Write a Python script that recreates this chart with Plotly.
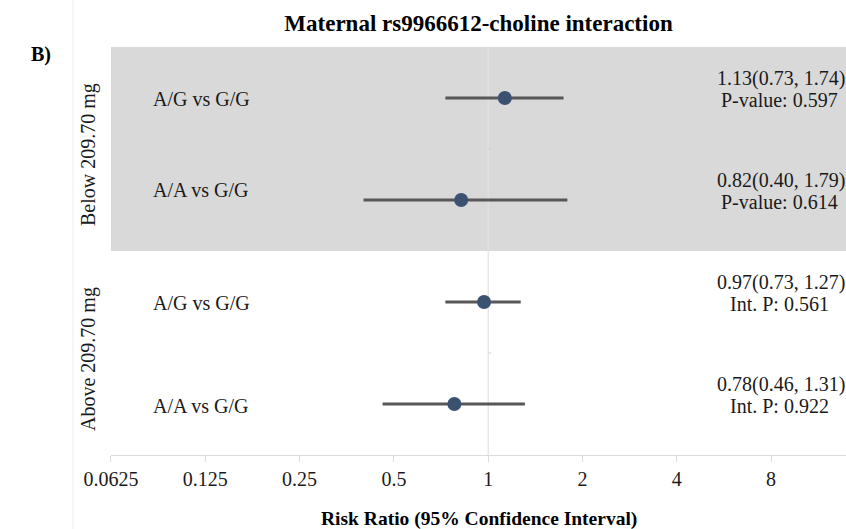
import plotly.graph_objects as go

# ---- data ----
comparisons = ["A/G vs G/G", "A/A vs G/G", "A/G vs G/G", "A/A vs G/G"]
groups = ["Below 209.70 mg", "Below 209.70 mg", "Above 209.70 mg", "Above 209.70 mg"]
group_names = ["Below 209.70 mg", "Above 209.70 mg"]
estimates = [1.13, 0.82, 0.97, 0.78]
lower = [0.73, 0.40, 0.73, 0.46]
upper = [1.74, 1.79, 1.27, 1.31]
ci_text = ["1.13(0.73, 1.74)", "0.82(0.40, 1.79)", "0.97(0.73, 1.27)", "0.78(0.46, 1.31)"]
p_text = ["P-value: 0.597", "P-value: 0.614", "Int. P: 0.561", "Int. P: 0.922"]
tick_vals = [0.0625, 0.125, 0.25, 0.5, 1, 2, 4, 8]
tick_text = ["0.0625", "0.125", "0.25", "0.5", "1", "2", "4", "8"]

FONT = "Liberation Serif, Times New Roman, serif"
W, H = 846, 529
L, R, T, B = 111, 0, 47, 74
PW, PH = W - L - R, H - T - B

def px_x(px):
    return (px - L) / PW

def px_y(py):
    return (H - B - py) / PH

n = len(comparisons)
ypos = [n - 1 - i for i in range(n)]  # top row = 3

fig = go.Figure()

fig.add_trace(go.Scatter(
    x=estimates, y=ypos, mode="markers",
    marker=dict(size=14, color="#3b5170"),
    error_x=dict(type="data", symmetric=False,
                 array=[u - e for u, e in zip(upper, estimates)],
                 arrayminus=[e - l for e, l in zip(estimates, lower)],
                 color="#575757", thickness=3, width=0),
    showlegend=False, hoverinfo="skip",
))

shapes = []
# shaded band for the first group
shapes.append(dict(type="rect", xref="paper", yref="y", x0=0, x1=1, y0=1.5, y1=3.5,
                   fillcolor="#d9d9d9", line=dict(width=0), layer="below"))
# reference line at RR = 1
shapes.append(dict(type="line", xref="x", yref="paper", x0=1, x1=1, y0=0, y1=1,
                   line=dict(color="#e3e3e3", width=1.2), layer="below"))
# small dashes on reference line between rows
for yv in [2.5, 0.5]:
    shapes.append(dict(type="line", xref="x", yref="y", xsizemode="pixel", xanchor=1,
                       x0=-3, x1=3, y0=yv, y1=yv,
                       line=dict(color="#cfcfcf", width=1), layer="below"))
# faint panel border on the left
shapes.append(dict(type="line", xref="paper", yref="paper", x0=px_x(73), x1=px_x(73),
                   y0=px_y(H), y1=px_y(0), line=dict(color="#ececec", width=1)))

annotations = []
label_shift = [-1, 10, -1, -2]
for i in range(n):
    annotations.append(dict(x=px_x(151), xref="paper", y=ypos[i], yref="y",
                            text=comparisons[i], showarrow=False, xanchor="left",
                            yanchor="middle", yshift=label_shift[i],
                            font=dict(family=FONT, size=20, color="#1a1a1a")))
    annotations.append(dict(x=px_x(781), xref="paper", y=ypos[i], yref="y",
                            text=ci_text[i], showarrow=False, xanchor="center",
                            yanchor="middle", yshift=20,
                            font=dict(family=FONT, size=20, color="#1a1a1a")))
    annotations.append(dict(x=px_x(779), xref="paper", y=ypos[i], yref="y",
                            text=p_text[i], showarrow=False, xanchor="center",
                            yanchor="middle", yshift=-2,
                            font=dict(family=FONT, size=20, color="#1a1a1a")))

for g in group_names:
    rows = [ypos[i] for i in range(n) if groups[i] == g]
    yc = sum(rows) / len(rows)
    annotations.append(dict(x=px_x(88), xref="paper", y=yc, yref="y",
                            text=g, showarrow=False, textangle=-90,
                            xanchor="center", yanchor="middle", yshift=-6,
                            font=dict(family=FONT, size=20, color="#1a1a1a")))

annotations.append(dict(x=px_x(41), xref="paper", y=px_y(54), yref="paper",
                        text="<b>B)</b>", showarrow=False, xanchor="center",
                        yanchor="middle", font=dict(family=FONT, size=20, color="#000")))
annotations.append(dict(x=0.5, xref="paper", y=px_y(519), yref="paper",
                        text="<b>Risk Ratio (95% Confidence Interval)</b>", showarrow=False,
                        xanchor="center", yanchor="middle",
                        font=dict(family=FONT, size=19.5, color="#000")))

fig.update_layout(
    width=W, height=H,
    margin=dict(l=L, r=R, t=T, b=B),
    paper_bgcolor="white", plot_bgcolor="white",
    title=dict(text="<b>Maternal rs9966612-choline interaction</b>",
               x=0.5, xref="paper", xanchor="center",
               y=1 - 23 / H, yref="container", yanchor="middle",
               font=dict(family=FONT, size=23, color="#000")),
    shapes=shapes, annotations=annotations,
    xaxis=dict(type="log", range=[-1.2041, 1.1422],
               tickvals=tick_vals, ticktext=tick_text,
               showgrid=False, zeroline=False,
               showline=True, linecolor="#dcdcdc", linewidth=1,
               ticks="outside", ticklen=6, tickcolor="#dcdcdc", tickwidth=1,
               tickfont=dict(family=FONT, size=20, color="#1a1a1a")),
    yaxis=dict(range=[-0.5, 3.5], visible=False, fixedrange=True),
)

fig.write_html("out.html",
               config={"displayModeBar": False},
               post_script="document.body.style.margin='0';document.body.style.padding='0';")
